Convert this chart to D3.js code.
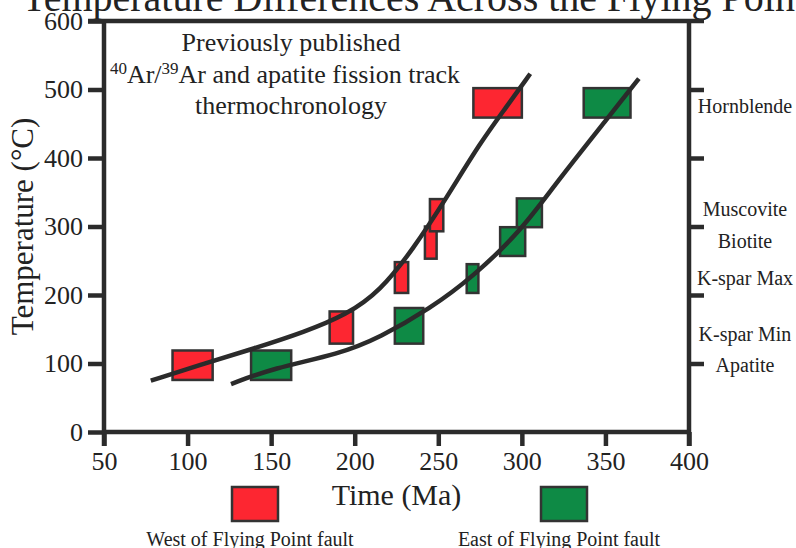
<!DOCTYPE html>
<html>
<head>
<meta charset="utf-8">
<script src="https://cdn.jsdelivr.net/npm/d3@7"></script>
<style>
  body { margin: 0; background: #fff; }
  svg { display: block; font-family: "Liberation Serif", "DejaVu Serif", serif; }
</style>
</head>
<body>
<div id="chart"></div>
<script>
// time ticks (Ma) and temperature ticks (°C)
const timeTicks = [50, 100, 150, 200, 250, 300, 350, 400];
const tempTicks = [0, 100, 200, 300, 400, 500, 600];
const rightTicks = [100, 200, 300, 400, 500];

// boxes: [time min, time max, temp min, temp max]
const westBoxes = [
  [91, 115, 76, 119],
  [185, 199, 129, 176],
  [224, 232, 203, 248],
  [242, 249, 253, 300],
  [245, 253, 293, 340],
  [271, 300, 459, 502]
];
const eastBoxes = [
  [138, 162, 76, 119],
  [224, 241, 129, 181],
  [267, 274, 203, 245],
  [287, 302, 257, 299],
  [297, 312, 299, 341],
  [337, 365, 459, 502]
];

// fitted cooling curves [time, temp]
const westCurve = [[78, 75], [110, 100], [140, 122], [170, 146], [195, 171], [215, 205],
  [235, 267], [255, 342], [275, 422], [290, 472], [305, 523]];
const eastCurve = [[126, 70], [151, 93], [191, 114], [215, 138], [245, 180], [271, 227],
  [300, 295], [320, 362], [352, 460], [370, 516]];

// closure temperatures on the right
const minerals = ["Hornblende", "Muscovite", "Biotite", "K-spar Max", "K-spar Min", "Apatite"];
const mineralTemps = [475, 325, 278, 224, 143, 97];

const W = 796, H = 548;
const ink = "#2b2b2b";
const red = "#fd2631", green = "#0e8a45";

const svg = d3.select("#chart").append("svg")
  .attr("width", W).attr("height", H)
  .style("overflow", "hidden");

const x = d3.scaleLinear().domain([50, 400]).range([104, 689]);
const y = d3.scaleLinear().domain([0, 600]).range([432, 21]);

// title (cut off at the top like the original)
svg.append("text")
  .attr("x", 22).attr("y", 11)
  .style("font-size", "40px").attr("fill", "#222")
  .text("Temperature Differences Across the Flying Point Fault");

// boxes
function drawBoxes(data, fill) {
  svg.append("g").selectAll("rect")
    .data(data)
    .join("rect")
      .attr("x", d => x(d[0]))
      .attr("y", d => y(d[3]))
      .attr("width", d => x(d[1]) - x(d[0]))
      .attr("height", d => y(d[2]) - y(d[3]))
      .attr("fill", fill)
      .attr("stroke", "#333")
      .attr("stroke-width", 2.5);
}
drawBoxes(westBoxes, red);
drawBoxes(eastBoxes, green);

// curves
const line = d3.line()
  .x(d => x(d[0]))
  .y(d => y(d[1]))
  .curve(d3.curveBasis);

[westCurve, eastCurve].forEach(c => {
  svg.append("path")
    .datum(c)
    .attr("d", line)
    .attr("fill", "none")
    .attr("stroke", ink)
    .attr("stroke-width", 4.5)
    .attr("stroke-linecap", "butt");
});

// axes
const yAxis = d3.axisLeft(y).tickValues(tempTicks).tickSize(16).tickPadding(5).tickSizeOuter(0);
const xAxis = d3.axisBottom(x).tickValues(timeTicks).tickSize(14).tickPadding(6).tickSizeOuter(0);
const rAxis = d3.axisRight(y).tickValues(rightTicks).tickSize(15).tickFormat("").tickSizeOuter(0);

function styleAxis(g) {
  g.select(".domain").remove();
  g.selectAll(".tick line").attr("stroke", ink).attr("stroke-width", 4.5);
  g.selectAll(".tick text")
    .attr("fill", "#222")
    .style("font-family", "Liberation Serif, serif")
    .style("font-size", "26px");
}

svg.append("g").attr("transform", `translate(${x(50)},0)`).call(yAxis).call(styleAxis);
svg.append("g").attr("transform", `translate(0,${y(0)})`).call(xAxis).call(styleAxis);
svg.append("g").attr("transform", `translate(${x(400)},0)`).call(rAxis).call(styleAxis);

// frame lines
const frame = svg.append("g").attr("stroke", ink).attr("stroke-width", 4.5);
frame.append("line").attr("x1", x(50)).attr("x2", x(50)).attr("y1", y(600) - 2).attr("y2", y(0) + 14);
frame.append("line").attr("x1", x(400)).attr("x2", x(400)).attr("y1", y(600) - 2).attr("y2", y(0) + 14);
frame.append("line").attr("x1", x(50) - 16).attr("x2", x(400) + 15).attr("y1", y(600)).attr("y2", y(600));
frame.append("line").attr("x1", x(50) - 2).attr("x2", x(400) + 2).attr("y1", y(0)).attr("y2", y(0));

// axis titles
svg.append("text")
  .attr("transform", `translate(33,${(y(0) + y(600)) / 2}) rotate(-90)`)
  .attr("text-anchor", "middle")
  .style("font-size", "31px").attr("fill", "#222")
  .text("Temperature (°C)");

svg.append("text")
  .attr("x", (x(50) + x(400)) / 2).attr("y", 505)
  .attr("text-anchor", "middle")
  .style("font-size", "30px").attr("fill", "#222")
  .text("Time (Ma)");

// annotation
const note = svg.append("g").attr("text-anchor", "middle").attr("fill", "#222").style("font-size", "26px");
note.append("text").attr("x", 291).attr("y", 51).text("Previously published");
const l2 = note.append("text").attr("x", 285).attr("y", 83);
l2.append("tspan").attr("dy", -9).style("font-size", "17px").text("40");
l2.append("tspan").attr("dy", 9).text("Ar/");
l2.append("tspan").attr("dy", -9).style("font-size", "17px").text("39");
l2.append("tspan").attr("dy", 9).text("Ar and apatite fission track");
note.append("text").attr("x", 291).attr("y", 114).text("thermochronology");

// mineral labels
svg.append("g").selectAll("text")
  .data(minerals)
  .join("text")
    .attr("x", 745)
    .attr("y", (d, i) => y(mineralTemps[i]))
    .attr("dy", "0.33em")
    .attr("text-anchor", "middle")
    .style("font-size", "20px")
    .attr("fill", "#222")
    .text(d => d);

// legend
const legendNames = ["West of Flying Point fault", "East of Flying Point fault"];
const legendColors = [red, green];
const legendX = [255, 564];
legendNames.forEach((n, i) => {
  svg.append("rect")
    .attr("x", legendX[i] - 23).attr("y", 487)
    .attr("width", 46).attr("height", 34)
    .attr("fill", legendColors[i])
    .attr("stroke", "#333").attr("stroke-width", 2.5);
  svg.append("text")
    .attr("x", legendX[i] - 5).attr("y", 546)
    .attr("text-anchor", "middle")
    .style("font-size", "20px").attr("fill", "#222")
    .text(n);
});
</script>
</body>
</html>
